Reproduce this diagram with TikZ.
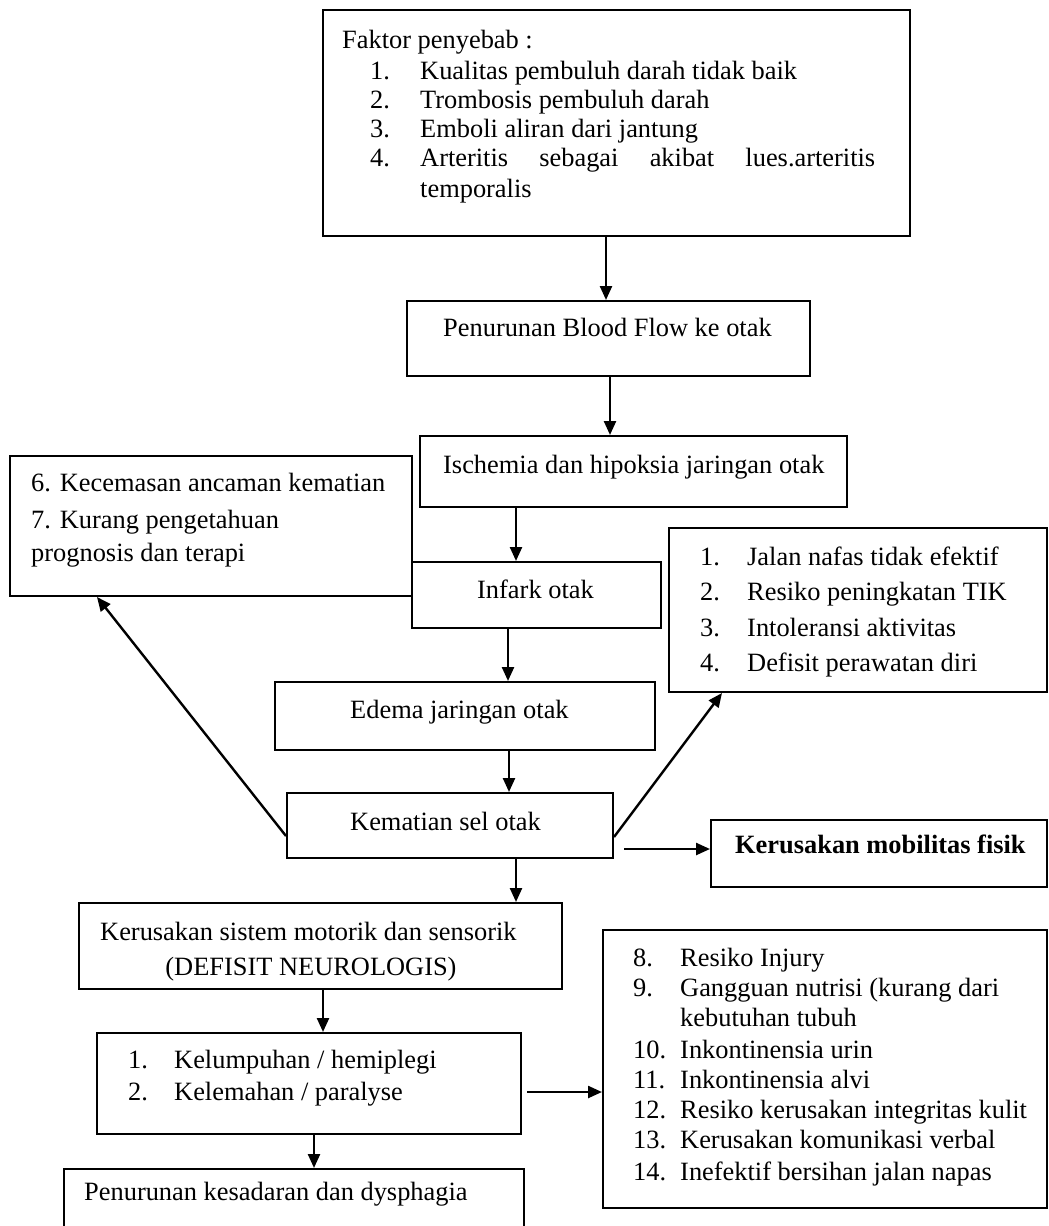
\documentclass[tikz,border=0pt]{standalone}
\usepackage{fontspec}
\setmainfont{Liberation Serif}
\usetikzlibrary{arrows.meta,fit}
\begin{document}
\begin{tikzpicture}[x=1pt,y=-1pt,
  bx/.style={draw, line width=2pt, inner sep=0pt, fit={#1}},
  txt/.style={anchor=base west, inner sep=0pt, font=\fontsize{26.4}{31}\selectfont},
  ctxt/.style={anchor=base, inner sep=0pt, font=\fontsize{26.4}{31}\selectfont},
  arr/.style={line width=2.4pt, -{Triangle[length=14pt,width=12pt]}}]
\fill[white] (0,0) rectangle (1049,1226);
\useasboundingbox (0,0) rectangle (1049,1226);

% boxes
\node[bx={(323,10) (910,236)}] (b1) {};
\node[bx={(407,301) (810,376)}] (b2) {};
\node[bx={(420,436) (847,507)}] (isc) {};
\node[bx={(10,456) (412,596)}] (lft) {};
\node[bx={(412,562) (661,628)}] (inf) {};
\node[bx={(669,528) (1047,692)}] (rgt) {};
\node[bx={(275,682) (655,750)}] (ede) {};
\node[bx={(287,793) (613,858)}] (kem) {};
\node[bx={(711,820) (1047,887)}] (mob) {};
\node[bx={(79,903) (562,989)}] (sis) {};
\node[bx={(97,1033) (521,1134)}] (lum) {};
\node[bx={(603,930) (1047,1208)}] (rep) {};
\node[bx={(64,1169) (524,1240)}] (bot) {};

% texts
\node[txt] (b1t0) at (342,48) {Faktor penyebab :};
\node[txt] (b1n1) at (370,79) {1.};
\node[txt] (b1t1) at (420,79) {Kualitas pembuluh darah tidak baik};
\node[txt] (b1n2) at (370,108) {2.};
\node[txt] (b1t2) at (420,108) {Trombosis pembuluh darah};
\node[txt] (b1n3) at (370,137) {3.};
\node[txt] (b1t3) at (420,137) {Emboli aliran dari jantung};
\node[txt] (b1n4) at (370,166) {4.};
\node[txt] (b1t4) at (420,166) {\hbox to 455pt{Arteritis\hfil sebagai\hfil akibat\hfil lues.arteritis}};
\node[txt] (b1t5) at (420,197) {temporalis};

\node[txt] (b2t) at (443,336) {Penurunan Blood Flow ke otak};
\node[txt] (isct) at (443,473) {Ischemia dan hipoksia jaringan otak};

\node[txt] (lft1) at (31,491) {6. Kecemasan ancaman kematian};
\node[txt] (lft2) at (31,528) {7. Kurang pengetahuan};
\node[txt] (lft3) at (31,561) {prognosis dan terapi};

\node[txt] (inft) at (477,598) {Infark otak};

\node[txt] (rgn1) at (700,565) {1.};
\node[txt] (rgt1) at (747,565) {Jalan nafas tidak efektif};
\node[txt] (rgn2) at (700,600) {2.};
\node[txt] (rgt2) at (747,600) {Resiko peningkatan TIK};
\node[txt] (rgn3) at (700,636) {3.};
\node[txt] (rgt3) at (747,636) {Intoleransi aktivitas};
\node[txt] (rgn4) at (700,671) {4.};
\node[txt] (rgt4) at (747,671) {Defisit perawatan diri};

\node[txt] (edet) at (350,718) {Edema jaringan otak};
\node[txt] (kemt) at (350,830) {Kematian sel otak};
\node[txt] (mobt) at (735,853) {\bfseries Kerusakan mobilitas fisik};

\node[txt] (sis1) at (100,940) {Kerusakan sistem motorik dan sensorik};
\node[ctxt] (sis2) at (311,975) {(DEFISIT NEUROLOGIS)};

\node[txt] (lumn1) at (128,1068) {1.};
\node[txt] (lumt1) at (174,1068) {Kelumpuhan / hemiplegi};
\node[txt] (lumn2) at (128,1100) {2.};
\node[txt] (lumt2) at (174,1100) {Kelemahan / paralyse};

\node[txt] (rn8) at (633,966) {8.};
\node[txt] (rt8) at (680,966) {Resiko Injury};
\node[txt] (rn9) at (633,996) {9.};
\node[txt] (rt9) at (680,996) {Gangguan nutrisi (kurang dari};
\node[txt] (rt9b) at (680,1026) {kebutuhan tubuh};
\node[txt] (rn10) at (633,1058) {10.};
\node[txt] (rt10) at (680,1058) {Inkontinensia urin};
\node[txt] (rn11) at (633,1088) {11.};
\node[txt] (rt11) at (680,1088) {Inkontinensia alvi};
\node[txt] (rn12) at (633,1118) {12.};
\node[txt] (rt12) at (680,1118) {Resiko kerusakan integritas kulit};
\node[txt] (rn13) at (633,1148) {13.};
\node[txt] (rt13) at (680,1148) {Kerusakan komunikasi verbal};
\node[txt] (rn14) at (633,1180) {14.};
\node[txt] (rt14) at (680,1180) {Inefektif bersihan jalan napas};

\node[txt] (bott) at (84,1200) {Penurunan kesadaran dan dysphagia};

% connectors
\coordinate (c1) at (606,0);
\coordinate (c2) at (610,0);
\coordinate (c3) at (516,0);
\coordinate (c4) at (508,0);
\coordinate (c5) at (509,0);
\coordinate (c6) at (516,0);
\coordinate (c7) at (323,0);
\coordinate (c8) at (314,0);
\draw[arr] (c1 |- b1.south) -- (c1 |- b2.north);
\draw[arr] (c2 |- b2.south) -- (c2 |- isc.north);
\draw[arr] (c3 |- isc.south) -- (c3 |- inf.north);
\draw[arr] (c4 |- inf.south) -- (c4 |- ede.north);
\draw[arr] (c5 |- ede.south) -- (c5 |- kem.north);
\draw[arr] (c6 |- kem.south) -- (c6 |- sis.north);
\draw[arr] (c7 |- sis.south) -- (c7 |- lum.north);
\draw[arr] (c8 |- lum.south) -- (c8 |- bot.north);

\coordinate (h1) at (624,849);
\draw[arr] (h1) -- (h1 -| mob.west);
\coordinate (h2) at (527,1092);
\draw[arr] (h2) -- (h2 -| rep.west);

\coordinate (d1) at (287,836);
\coordinate (d1t) at (97,596);
\draw[arr] (kem.west |- d1) -- (lft.south -| d1t);
\coordinate (d2) at (613,837);
\coordinate (d2t) at (722,692);
\draw[arr] (kem.east |- d2) -- (rgt.south -| d2t);
\end{tikzpicture}
\end{document}
